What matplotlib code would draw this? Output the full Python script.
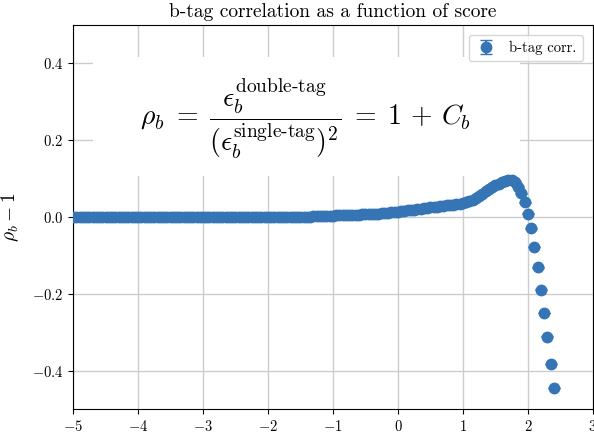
import numpy as np
import matplotlib
matplotlib.use("Agg")
import matplotlib.pyplot as plt
from matplotlib.patches import Rectangle

plt.rcParams["font.family"] = "serif"
plt.rcParams["font.serif"] = ["cmr10"]
plt.rcParams["mathtext.fontset"] = "cm"
plt.rcParams["axes.formatter.use_mathtext"] = True

# score bin centres (0.05 wide bins)
score = np.round(np.arange(-5.0, 2.401, 0.05), 2)

# measured rho_b - 1 per bin
corr = [
    0.000, 0.000, 0.000, 0.000, 0.000, 0.000, 0.000, 0.000, 0.000, 0.000,
    0.000, 0.000, 0.000, 0.000, 0.000, 0.000, 0.000, 0.000, 0.000, 0.000,
    0.000, 0.000, 0.000, 0.000, 0.000, 0.000, 0.000, 0.000, 0.000, 0.000,
    0.000, 0.000, 0.000, 0.000, 0.000, 0.000, 0.000, 0.000, 0.000, 0.000,
    0.000, 0.000, 0.000, 0.000, 0.000, 0.000, 0.000, 0.000, 0.000, 0.000,
    0.000, 0.000, 0.000, 0.000, 0.000, 0.000, 0.000, 0.000, 0.000, 0.000,
    0.000, 0.000, 0.000, 0.000, 0.000, 0.000, 0.000, 0.000, 0.000, 0.000,
    0.001, 0.001, 0.001, 0.001, 0.002, 0.002, 0.002, 0.002, 0.003, 0.003,
    0.003, 0.004, 0.004, 0.004, 0.005, 0.005, 0.005, 0.006, 0.006, 0.007,
    0.007, 0.008, 0.008, 0.009, 0.009, 0.010, 0.010, 0.011, 0.012, 0.013,
    0.014, 0.015, 0.016, 0.017, 0.018, 0.019, 0.021, 0.022, 0.023, 0.024,
    0.025, 0.026, 0.027, 0.028, 0.029, 0.030, 0.031, 0.032, 0.033, 0.034,
    0.036, 0.038, 0.041, 0.045, 0.050, 0.055, 0.061, 0.067, 0.073, 0.078,
    0.083, 0.087, 0.091, 0.094, 0.096, 0.097, 0.092, 0.079, 0.062, 0.038,
    0.009, -0.030, -0.078, -0.131, -0.189, -0.250, -0.312, -0.383, -0.445,
]
corr_err = [0.001] * len(corr)

fig = plt.figure(figsize=(5.94, 4.37), dpi=100)
ax = fig.add_axes([0.123, 0.064, 0.875, 0.879])

ax.errorbar(score, corr, yerr=corr_err, fmt="o", color="#3575b5",
            markersize=7.5, capsize=4.5, label="b-tag corr.", zorder=3)

ax.set_xlim(-5, 3)
ax.set_ylim(-0.5, 0.5)
ax.set_xticks(np.arange(-5, 4, 1))
ax.set_yticks([-0.4, -0.2, 0.0, 0.2, 0.4])
ax.tick_params(labelsize=10.5)
ax.grid(True, color="#cccccc", linewidth=1.0)
ax.set_axisbelow(True)

ax.set_title("b-tag correlation as a function of score", fontsize=14)
ax.set_ylabel(r"$\rho_b - 1$", fontsize=14, labelpad=8)

# definition of the correlation factor on a white panel
ax.add_patch(Rectangle((0.038, 0.607), 0.822, 0.31, transform=ax.transAxes,
                       facecolor="white", edgecolor="none", zorder=2))
ax.text(0.448, 0.755,
        r"$\rho_b \;=\; \dfrac{\epsilon_b^{\text{double-tag}}}"
        r"{(\epsilon_b^{\text{single-tag}})^2} \;=\; 1 \,+\, C_b$",
        transform=ax.transAxes, ha="center", va="center", fontsize=20,
        zorder=4)

ax.legend(loc="upper right", fontsize=10.5, borderaxespad=0.7,
          handlelength=1.6)

fig.savefig("out.png", dpi=100)
